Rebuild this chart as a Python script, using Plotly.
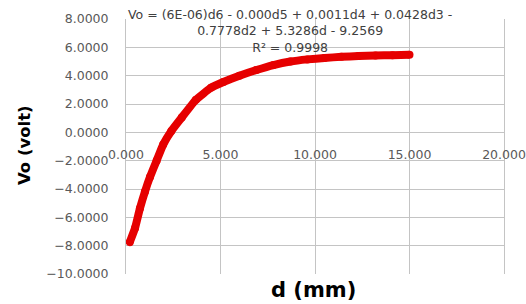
import plotly.graph_objects as go

# Data
d_mm = [0.2, 0.48, 0.74, 1.0, 1.27, 1.62, 1.97, 2.4, 2.95, 3.7, 4.5, 5.15,
        6.0, 6.9, 7.8, 8.7, 9.6, 10.5, 11.4, 12.3, 13.2, 14.1, 15.0]
vo_volt = [-7.75, -6.75, -5.35, -4.2, -3.15, -2.0, -0.85, 0.1, 1.05, 2.3, 3.15, 3.55,
           4.0, 4.4, 4.75, 5.0, 5.15, 5.25, 5.33, 5.39, 5.43, 5.45, 5.47]

x_ticks = [0, 5, 10, 15, 20]
y_ticks = [8, 6, 4, 2, 0, -2, -4, -6, -8, -10]

equation_lines = ["Vo = (6E-06)d6 - 0.000d5 + 0.0011d4 + 0.0428d3 -",
                  "0.7778d2 + 5.3286d - 9.2569",
                  "R\u00b2 = 0.9998"]
x_title = "d (mm)"
y_title = "Vo (volt)"

grid = "#c4c4c4"
tick_font = dict(family="DejaVu Sans", size=12.5, color="#595959")

fig = go.Figure()
fig.add_trace(go.Scatter(
    x=d_mm, y=vo_volt, mode="lines+markers",
    line=dict(color="#e60000", width=8, shape="spline", smoothing=0.3),
    marker=dict(color="#e60000", size=8),
    showlegend=False, hoverinfo="skip"))

fig.update_layout(
    width=526, height=304,
    margin=dict(l=126, r=22, t=19, b=30, autoexpand=False),
    paper_bgcolor="white", plot_bgcolor="white",
    xaxis=dict(range=[0, 20], tickvals=x_ticks, tickformat=".3f",
               automargin=False,
               showgrid=True, gridcolor=grid, gridwidth=1,
               zeroline=True, zerolinecolor=grid, zerolinewidth=1,
               anchor="free", position=10 / 18, showline=False,
               ticks="", ticklabelstandoff=13, tickfont=tick_font),
    yaxis=dict(range=[-10, 8], tickvals=y_ticks, tickformat=".4f",
               automargin=False,
               showgrid=True, gridcolor=grid, gridwidth=1,
               zeroline=True, zerolinecolor=grid, zerolinewidth=1,
               showline=True, linecolor=grid, linewidth=1, mirror=True,
               ticks="", ticklabelstandoff=14, tickfont=tick_font),
    annotations=[
        dict(text="<br>".join(equation_lines), xref="paper", yref="paper",
             x=0.434, y=0.953, xanchor="center", yanchor="middle",
             showarrow=False, align="center",
             font=dict(family="DejaVu Sans", size=12.5, color="#404040")),
        dict(text="<b>%s</b>" % y_title, xref="paper", yref="paper",
             x=-0.267, y=0.506, xanchor="center", yanchor="middle",
             textangle=-90, showarrow=False,
             font=dict(family="DejaVu Sans", size=16.5, color="black")),
        dict(text="<b>%s</b>" % x_title, xref="paper", yref="paper",
             x=0.497, y=-0.117, xanchor="center", yanchor="bottom",
             showarrow=False,
             font=dict(family="DejaVu Sans", size=21, color="black")),
    ],
)

fig.write_html("out.html",
               config={"displayModeBar": False, "staticPlot": True},
               post_script="document.body.style.margin='0px';"
                           "document.body.style.overflow='hidden';")
